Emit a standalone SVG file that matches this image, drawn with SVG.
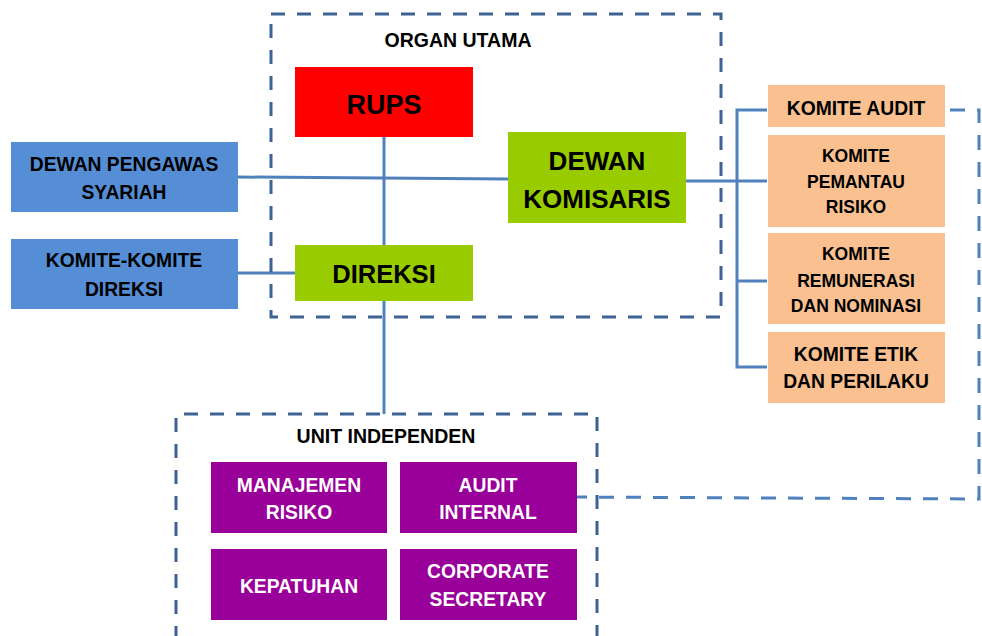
<svg xmlns="http://www.w3.org/2000/svg" width="982" height="636" viewBox="0 0 982 636">
<style>
text{font-family:"Liberation Sans",Arial,sans-serif;font-weight:bold;text-anchor:middle;fill:#000}
.w{fill:#fff}
.frame{fill:none;stroke:#3e6294;stroke-width:3;stroke-dasharray:14 12}
.ln{fill:none;stroke:#4f81bd;stroke-width:3}
.dl{fill:none;stroke:#4f81bd;stroke-width:3;stroke-dasharray:15 12}
.blue{fill:#558ed5}.red{fill:#ff0000}.green{fill:#99cc00}.peach{fill:#fac090}.purple{fill:#990099}
</style>
<rect width="982" height="636" fill="#fff"/>
<g id="connectors">
<line class="ln" x1="384" y1="137" x2="384" y2="245"/>
<line class="ln" x1="384" y1="301" x2="384" y2="414"/>
<polyline class="ln" points="238,177 508,179"/>
<line class="ln" x1="238" y1="273" x2="295" y2="273"/>
<polyline class="ln" points="686,181 737,181"/>
<polyline class="ln" points="767,110 737,110 737,367 767,367"/>
<line class="ln" x1="737" y1="281" x2="767" y2="281"/>
<line class="ln" x1="737" y1="181" x2="767" y2="181"/>
<polyline class="dl" points="950,110 979,110 979,499 570,497"/>
</g>
<g id="organ-utama">
<rect class="frame" x="271" y="14" width="450" height="303"/>
<text x="458" y="47" font-size="19.5">ORGAN UTAMA</text>
</g>
<g id="unit-independen">
<path class="frame" d="M176,640 V414 H597 V640"/>
<text x="386" y="443" font-size="19.5">UNIT INDEPENDEN</text>
</g>
<g id="rups"><rect class="red" x="295" y="67" width="178" height="70"/><text x="384" y="114" font-size="27">RUPS</text></g>
<g id="dewan-komisaris"><rect class="green" x="508" y="132" width="178" height="91"/><text x="597" y="170" font-size="26">DEWAN</text><text x="597" y="208" font-size="26">KOMISARIS</text></g>
<g id="direksi"><rect class="green" x="295" y="245" width="178" height="56"/><text x="384" y="283" font-size="25.5">DIREKSI</text></g>
<g id="dps"><rect class="blue" x="11" y="142" width="227" height="70"/><text x="124" y="171" font-size="19.3">DEWAN PENGAWAS</text><text x="124" y="199" font-size="19.3">SYARIAH</text></g>
<g id="kkd"><rect class="blue" x="11" y="239" width="227" height="70"/><text x="124" y="267" font-size="19.3">KOMITE-KOMITE</text><text x="124" y="296" font-size="19.3">DIREKSI</text></g>
<g id="komite-audit"><rect class="peach" x="768" y="85" width="177" height="42"/><text x="856" y="115" font-size="19.3">KOMITE AUDIT</text></g>
<g id="komite-pemantau"><rect class="peach" x="768" y="135" width="177" height="92"/><text x="856" y="162" font-size="17.5">KOMITE</text><text x="856" y="188" font-size="17.5">PEMANTAU</text><text x="856" y="213" font-size="17.5">RISIKO</text></g>
<g id="komite-remunerasi"><rect class="peach" x="768" y="233" width="177" height="91"/><text x="856" y="260" font-size="17.5">KOMITE</text><text x="856" y="287" font-size="17.5">REMUNERASI</text><text x="856" y="312" font-size="17.5">DAN NOMINASI</text></g>
<g id="komite-etik"><rect class="peach" x="768" y="332" width="177" height="71"/><text x="856" y="361" font-size="19.3">KOMITE ETIK</text><text x="856" y="388" font-size="19.3">DAN PERILAKU</text></g>
<g id="manajemen-risiko"><rect class="purple" x="211" y="462" width="176" height="71"/><text class="w" x="299" y="492" font-size="19.3">MANAJEMEN</text><text class="w" x="299" y="519" font-size="19.3">RISIKO</text></g>
<g id="audit-internal"><rect class="purple" x="400" y="462" width="177" height="71"/><text class="w" x="488" y="492" font-size="19.3">AUDIT</text><text class="w" x="488" y="519" font-size="19.3">INTERNAL</text></g>
<g id="kepatuhan"><rect class="purple" x="211" y="549" width="176" height="71"/><text class="w" x="299" y="593" font-size="19.3">KEPATUHAN</text></g>
<g id="corporate-secretary"><rect class="purple" x="400" y="549" width="177" height="71"/><text class="w" x="488" y="578" font-size="19.3">CORPORATE</text><text class="w" x="488" y="606" font-size="19.3">SECRETARY</text></g>
</svg>
